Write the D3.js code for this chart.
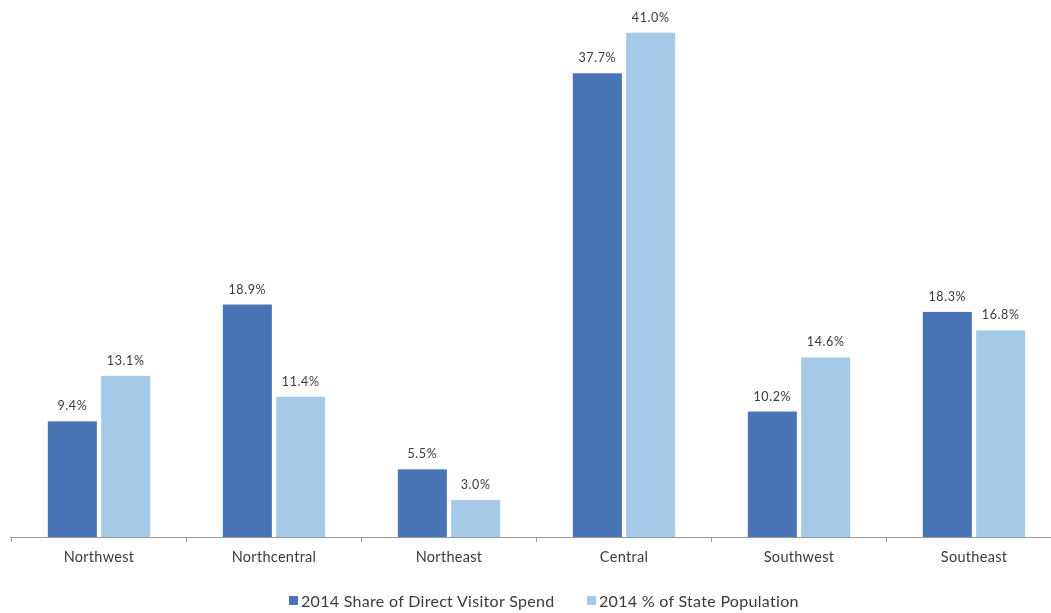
<!DOCTYPE html>
<html>
<head>
<meta charset="utf-8">
<script src="https://cdn.jsdelivr.net/npm/d3@7"></script>
<style>
  html, body { margin: 0; padding: 0; background: #ffffff; }
  svg { display: block; }
  text { font-family: Lato, "Open Sans", sans-serif; fill: #3a3a3a; }
</style>
</head>
<body>
<svg id="chart" width="1051" height="613"></svg>
<script>
// Regions and the two series shown for each one (percent)
const regions = ["Northwest", "Northcentral", "Northeast", "Central", "Southwest", "Southeast"];
const seriesNames = ["2014 Share of Direct Visitor Spend", "2014 % of State Population"];
const visitorSpend = [9.4, 18.9, 5.5, 37.7, 10.2, 18.3];
const statePopulation = [13.1, 11.4, 3.0, 41.0, 14.6, 16.8];
const seriesColors = ["#4a75b6", "#a5cae8"];

const svg = d3.select("#chart");

const baseY = 537;
const x0 = d3.scaleBand()
  .domain(regions)
  .range([11.5, 1061.5])
  .paddingInner(0.415)
  .paddingOuter(0.2075);

const x1 = d3.scaleBand()
  .domain([0, 1])
  .range([0, x0.bandwidth()])
  .paddingInner(0.08);

const y = d3.scaleLinear()
  .domain([0, 41])
  .range([baseY, 32.7]);

const rows = regions.map((r, i) => ({
  region: r,
  values: [visitorSpend[i], statePopulation[i]]
}));

// slight softness over the whole drawing
const defs = svg.append("defs");
defs.append("filter").attr("id", "soft")
  .append("feGaussianBlur").attr("stdDeviation", 0.35);

const g = svg.append("g").attr("filter", "url(#soft)");

// grouped bars
const groups = g.selectAll("g.grp")
  .data(rows)
  .join("g")
  .attr("class", "grp")
  .attr("transform", d => `translate(${x0(d.region)},0)`);

groups.selectAll("rect")
  .data(d => d.values.map((v, k) => ({ v, k })))
  .join("rect")
  .attr("x", d => x1(d.k))
  .attr("y", d => y(d.v))
  .attr("width", x1.bandwidth())
  .attr("height", d => y(0) - y(d.v))
  .attr("fill", d => seriesColors[d.k]);

// value labels above bars
groups.selectAll("text.val")
  .data(d => d.values.map((v, k) => ({ v, k })))
  .join("text")
  .attr("class", "val")
  .attr("x", d => x1(d.k) + x1.bandwidth() / 2)
  .attr("y", d => y(d.v) - 11)
  .attr("text-anchor", "middle")
  .attr("font-size", 12.5)
  .attr("letter-spacing", 0.6)
  .attr("fill", "#444")
  .text(d => d.v.toFixed(1) + "%");

// category axis
const axis = g.append("g").attr("transform", `translate(0,${baseY})`);
axis.append("line")
  .attr("x1", 10).attr("x2", 1051)
  .attr("y1", 0.5).attr("y2", 0.5)
  .attr("stroke", "#9a9a9a").attr("stroke-width", 1.2);

const boundaries = regions.map(r => x0(r) - (x0.step() - x0.bandwidth()) / 2);
axis.selectAll("line.tick")
  .data(boundaries)
  .join("line")
  .attr("class", "tick")
  .attr("x1", d => d).attr("x2", d => d)
  .attr("y1", 0).attr("y2", 5)
  .attr("stroke", "#9a9a9a");

axis.selectAll("text.cat")
  .data(regions)
  .join("text")
  .attr("class", "cat")
  .attr("x", d => x0(d) + x0.bandwidth() / 2)
  .attr("y", 25)
  .attr("text-anchor", "middle")
  .attr("font-size", 14.5)
  .attr("letter-spacing", 0.3)
  .attr("fill", "#3c3c3c")
  .text(d => d);

// legend
const legendItems = [
  { name: seriesNames[0], color: seriesColors[0], x: 289 },
  { name: seriesNames[1], color: seriesColors[1], x: 587 }
];
const legend = g.append("g");
const li = legend.selectAll("g")
  .data(legendItems)
  .join("g")
  .attr("transform", d => `translate(${d.x},0)`);
li.append("rect")
  .attr("x", 0).attr("y", 596)
  .attr("width", 9).attr("height", 9)
  .attr("fill", d => d.color);
li.append("text")
  .attr("x", 12).attr("y", 607)
  .attr("font-size", 16)
  .attr("letter-spacing", 0.3)
  .attr("fill", "#333")
  .text(d => d.name);
</script>
</body>
</html>
